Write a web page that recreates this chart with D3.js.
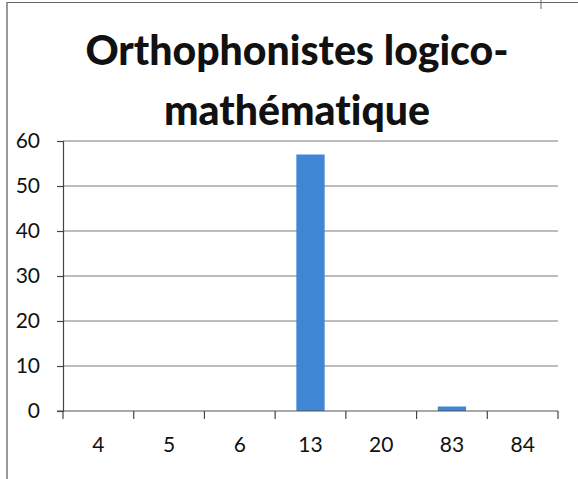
<!DOCTYPE html>
<html>
<head>
<meta charset="utf-8">
<script src="https://cdn.jsdelivr.net/npm/d3@7"></script>
<style>
  body { margin: 0; background: #fff; }
  svg { display: block; }
  text { font-variant-ligatures: none; }
</style>
</head>
<body>
<svg id="chart"></svg>
<script>
// donnees
const categories = ['4', '5', '6', '13', '20', '83', '84'];
const values = [0, 0, 0, 57, 0, 1, 0];
const yTicks = [0, 10, 20, 30, 40, 50, 60];
const titleLines = ['Orthophonistes logico-', 'mathématique'];

const width = 578;
const height = 479;
const plotLeft = 63, plotRight = 558, plotTop = 141, plotBottom = 411;
const font = 'Lato, "Open Sans", sans-serif';

const svg = d3.select('#chart')
    .attr('width', width)
    .attr('height', height);

svg.append('rect')
    .attr('width', width)
    .attr('height', height)
    .attr('fill', '#fff');

// cadre du scan
svg.append('line')
    .attr('x1', 7).attr('x2', 7).attr('y1', 2).attr('y2', height)
    .attr('stroke', '#555').attr('stroke-width', 1.2);
svg.append('line')
    .attr('x1', 7).attr('x2', width).attr('y1', 2.5).attr('y2', 2.5)
    .attr('stroke', '#666').attr('stroke-width', 1.2);
svg.append('line')
    .attr('x1', 541).attr('x2', 541).attr('y1', 0).attr('y2', 9)
    .attr('stroke', '#666').attr('stroke-width', 1);

// titre
svg.append('text')
    .attr('x', 297)
    .attr('text-anchor', 'middle')
    .style('font-family', font)
    .style('font-weight', '900')
    .style('font-size', '41px')
    .style('fill', '#111')
    .selectAll('tspan')
    .data(titleLines)
    .enter().append('tspan')
    .attr('x', 297)
    .attr('y', (d, i) => 65 + i * 60)
    .text(d => d);

const x = d3.scaleBand()
    .domain(categories)
    .range([plotLeft, plotRight])
    .paddingInner(0)
    .paddingOuter(0);

const y = d3.scaleLinear()
    .domain([0, 60])
    .range([plotBottom, plotTop]);

// lignes de quadrillage
svg.append('g')
    .selectAll('line')
    .data(yTicks.filter(d => d > 0))
    .enter().append('line')
    .attr('x1', plotLeft)
    .attr('x2', plotRight)
    .attr('y1', d => y(d))
    .attr('y2', d => y(d))
    .attr('stroke', '#7a7a7a')
    .attr('stroke-width', 1.2);

// axe vertical
const yAxis = svg.append('g')
    .attr('transform', `translate(${plotLeft},0)`)
    .call(d3.axisLeft(y).tickValues(yTicks).tickSize(6).tickPadding(17).tickFormat(d3.format('d')));
yAxis.select('.domain').attr('stroke', '#444').attr('stroke-width', 1.2);
yAxis.selectAll('.tick line').attr('stroke', '#444').attr('stroke-width', 1.2);
yAxis.selectAll('.tick text')
    .style('font-family', font)
    .style('font-size', '21px')
    .style('fill', '#111');

// barres
const barW = x.bandwidth() / 2.5;
svg.append('g')
    .selectAll('rect')
    .data(values)
    .enter().append('rect')
    .attr('x', (d, i) => x(categories[i]) + (x.bandwidth() - barW) / 2)
    .attr('y', d => y(d))
    .attr('width', barW)
    .attr('height', d => y(0) - y(d))
    .attr('fill', '#3f86d4');

// axe horizontal
svg.append('line')
    .attr('x1', plotLeft - 6).attr('x2', plotRight)
    .attr('y1', y(0)).attr('y2', y(0))
    .attr('stroke', '#555').attr('stroke-width', 1.2);

const bounds = categories.map(c => x(c)).concat([x(categories[categories.length - 1]) + x.bandwidth()]);
svg.append('g')
    .selectAll('line')
    .data(bounds)
    .enter().append('line')
    .attr('x1', d => d).attr('x2', d => d)
    .attr('y1', y(0)).attr('y2', y(0) + 8)
    .attr('stroke', '#444').attr('stroke-width', 1.2);

svg.append('g')
    .selectAll('text')
    .data(categories)
    .enter().append('text')
    .attr('x', d => x(d) + x.bandwidth() / 2)
    .attr('y', 452)
    .attr('text-anchor', 'middle')
    .style('font-family', font)
    .style('font-size', '21px')
    .style('fill', '#111')
    .text(d => d);
</script>
</body>
</html>
